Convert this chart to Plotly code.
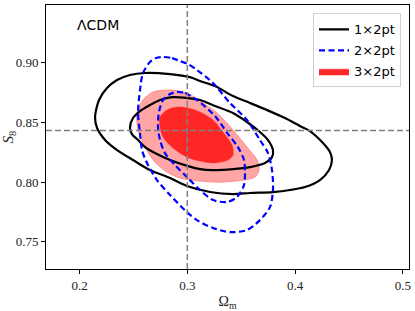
import plotly.graph_objects as go

# Fiducial values
OMEGA_FID = 0.3
S8_FID = 0.843

# 1x2pt contours (2 sigma outer, 1 sigma inner)
one_outer_om = [0.2144, 0.2181, 0.2255, 0.2348, 0.2468, 0.2608, 0.2840, 0.3025, 0.3118, 0.3257,
                0.3424, 0.3582, 0.3739, 0.3906, 0.4045, 0.4138, 0.4259, 0.4324, 0.4342, 0.4315,
                0.4231, 0.4092, 0.3953, 0.3795, 0.3582, 0.3424, 0.3211, 0.2997, 0.2840, 0.2654,
                0.2496, 0.2348, 0.2237, 0.2163]
one_outer_s8 = [0.8543, 0.8686, 0.8786, 0.8853, 0.8895, 0.8912, 0.8903, 0.8878, 0.8845, 0.8803,
                0.8719, 0.8661, 0.8602, 0.8535, 0.8468, 0.8426, 0.8326, 0.8250, 0.8184, 0.8100,
                0.8016, 0.7958, 0.7933, 0.7916, 0.7908, 0.7899, 0.7916, 0.7966, 0.8033, 0.8100,
                0.8184, 0.8267, 0.8351, 0.8451]
one_inner_om = [0.2468, 0.2496, 0.2561, 0.2654, 0.2747, 0.2858, 0.3006, 0.3118, 0.3257, 0.3424,
                0.3554, 0.3674, 0.3749, 0.3795, 0.3786, 0.3721, 0.3582, 0.3424, 0.3238, 0.3118,
                0.3006, 0.2840, 0.2700, 0.2608, 0.2543, 0.2486]
one_inner_s8 = [0.8451, 0.8535, 0.8594, 0.8644, 0.8686, 0.8710, 0.8702, 0.8686, 0.8636, 0.8577,
                0.8502, 0.8418, 0.8351, 0.8267, 0.8208, 0.8159, 0.8125, 0.8108, 0.8100, 0.8108,
                0.8133, 0.8184, 0.8242, 0.8292, 0.8351, 0.8401]

# 2x2pt contours
two_outer_om = [0.2775, 0.2858, 0.2932, 0.3006, 0.3090, 0.3238, 0.3396, 0.3554, 0.3674, 0.3749,
                0.3786, 0.3795, 0.3767, 0.3674, 0.3554, 0.3396, 0.3238, 0.3090, 0.3006, 0.2840,
                0.2719, 0.2626, 0.2580, 0.2561, 0.2543, 0.2561, 0.2589, 0.2654, 0.2710]
two_outer_s8 = [0.9046, 0.9037, 0.9012, 0.8987, 0.8937, 0.8828, 0.8661, 0.8519, 0.8351, 0.8242,
                0.8100, 0.7933, 0.7790, 0.7681, 0.7598, 0.7581, 0.7615, 0.7681, 0.7740, 0.7891,
                0.8016, 0.8159, 0.8267, 0.8410, 0.8577, 0.8769, 0.8912, 0.9004, 0.9037]
two_inner_om = [0.2904, 0.2979, 0.3090, 0.3257, 0.3378, 0.3470, 0.3526, 0.3535, 0.3526, 0.3461,
                0.3368, 0.3238, 0.3118, 0.3006, 0.2886, 0.2793, 0.2747, 0.2728, 0.2737, 0.2775,
                0.2840]
two_inner_s8 = [0.8753, 0.8744, 0.8686, 0.8552, 0.8401, 0.8292, 0.8184, 0.8083, 0.7974, 0.7874,
                0.7832, 0.7849, 0.7933, 0.8033, 0.8142, 0.8242, 0.8351, 0.8460, 0.8585, 0.8686,
                0.8736]

# 3x2pt filled contours
three_outer_om = [0.2682, 0.2840, 0.2997, 0.3118, 0.3276, 0.3424, 0.3554, 0.3647, 0.3665, 0.3628,
                  0.3517, 0.3303, 0.3118, 0.2932, 0.2812, 0.2700, 0.2608, 0.2543, 0.2533, 0.2589]
three_outer_s8 = [0.8753, 0.8769, 0.8744, 0.8677, 0.8577, 0.8435, 0.8292, 0.8184, 0.8100, 0.8041,
                  0.8016, 0.7999, 0.8008, 0.8033, 0.8083, 0.8167, 0.8292, 0.8435, 0.8577, 0.8686]
three_inner_om = [0.2812, 0.2904, 0.3006, 0.3118, 0.3238, 0.3331, 0.3415, 0.3424, 0.3378, 0.3238,
                  0.3118, 0.2997, 0.2867, 0.2775, 0.2747, 0.2747]
three_inner_s8 = [0.8602, 0.8627, 0.8619, 0.8585, 0.8519, 0.8418, 0.8309, 0.8225, 0.8184, 0.8159,
                  0.8175, 0.8208, 0.8284, 0.8376, 0.8460, 0.8543]

labels = ["1×2pt", "2×2pt", "3×2pt"]


def closed(a):
    return list(a) + [a[0]]


fig = go.Figure()

# 3x2pt filled regions
fig.add_trace(go.Scatter(x=closed(three_outer_om), y=closed(three_outer_s8), mode="lines",
                         fill="toself", fillcolor="rgb(255,165,165)",
                         line=dict(color="rgb(255,140,140)", width=1, shape="spline", smoothing=0.8),
                         showlegend=False, hoverinfo="skip"))
fig.add_trace(go.Scatter(x=closed(three_inner_om), y=closed(three_inner_s8), mode="lines",
                         fill="toself", fillcolor="rgb(255,38,38)",
                         line=dict(color="rgb(255,38,38)", width=0.5, shape="spline", smoothing=0.8),
                         name=labels[2], legendrank=3, legendgroup="three", hoverinfo="skip"))

# 1x2pt black solid
for i, (xs, ys) in enumerate([(one_outer_om, one_outer_s8), (one_inner_om, one_inner_s8)]):
    fig.add_trace(go.Scatter(x=closed(xs), y=closed(ys), mode="lines",
                             line=dict(color="black", width=2.2, shape="spline", smoothing=0.8),
                             name=labels[0], showlegend=(i == 0), legendgroup="one",
                             legendrank=1, hoverinfo="skip"))

# 2x2pt blue dashed
for i, (xs, ys) in enumerate([(two_outer_om, two_outer_s8), (two_inner_om, two_inner_s8)]):
    fig.add_trace(go.Scatter(x=closed(xs), y=closed(ys), mode="lines",
                             line=dict(color="blue", width=2.2, dash="6px,3.5px",
                                       shape="spline", smoothing=0.8),
                             name=labels[1], showlegend=(i == 0), legendgroup="two",
                             legendrank=2, hoverinfo="skip"))

# fiducial lines
fig.add_shape(type="line", xref="x", yref="paper", x0=OMEGA_FID, x1=OMEGA_FID, y0=0, y1=1,
              line=dict(color="gray", width=1.5, dash="6px,3px"), layer="above")
fig.add_shape(type="line", xref="paper", yref="y", x0=0, x1=1, y0=S8_FID, y1=S8_FID,
              line=dict(color="gray", width=1.5, dash="6px,3px"), layer="above")

fig.add_annotation(x=0.08, y=0.925, xref="paper", yref="paper", text="ΛCDM", showarrow=False,
                   xanchor="left", yanchor="middle",
                   font=dict(family="DejaVu Sans", size=14, color="black"))

serif = "Liberation Serif"
fig.update_xaxes(range=[0.1689, 0.5057], tickvals=[0.2, 0.3, 0.4, 0.5], tickformat=".1f",
                 showgrid=False, zeroline=False, showline=True, linecolor="black", linewidth=1,
                 mirror=True, ticks="outside", ticklen=4, tickcolor="black", automargin=False,
                 tickfont=dict(family=serif, size=13, color="#222"),
                 title=dict(text="Ω<sub>m</sub>", font=dict(family=serif, size=14, color="#222"),
                            standoff=4))
fig.update_yaxes(range=[0.7272, 0.9481], tickvals=[0.75, 0.80, 0.85, 0.90], tickformat=".2f",
                 showgrid=False, zeroline=False, showline=True, linecolor="black", linewidth=1,
                 mirror=True, ticks="outside", ticklen=4, tickcolor="black", automargin=False,
                 tickfont=dict(family=serif, size=13, color="#222"),
                 title=dict(text="<i>S</i><sub>8</sub>", font=dict(family=serif, size=15, color="#222"),
                            standoff=2))

fig.update_layout(
    template="none",
    width=415, height=311,
    margin=dict(l=46, r=6, t=5, b=42),
    plot_bgcolor="white", paper_bgcolor="white",
    showlegend=True,
    legend=dict(x=0.978, y=0.968, xanchor="right", yanchor="top",
                bgcolor="rgba(255,255,255,0.85)", bordercolor="#d0d0d0", borderwidth=1,
                font=dict(family="DejaVu Sans", size=13, color="black"),
                tracegroupgap=1, itemwidth=30),
)

fig.write_html("out.html", config={"displayModeBar": False},
               post_script="document.body.style.margin='0';document.body.style.overflow='hidden';")
